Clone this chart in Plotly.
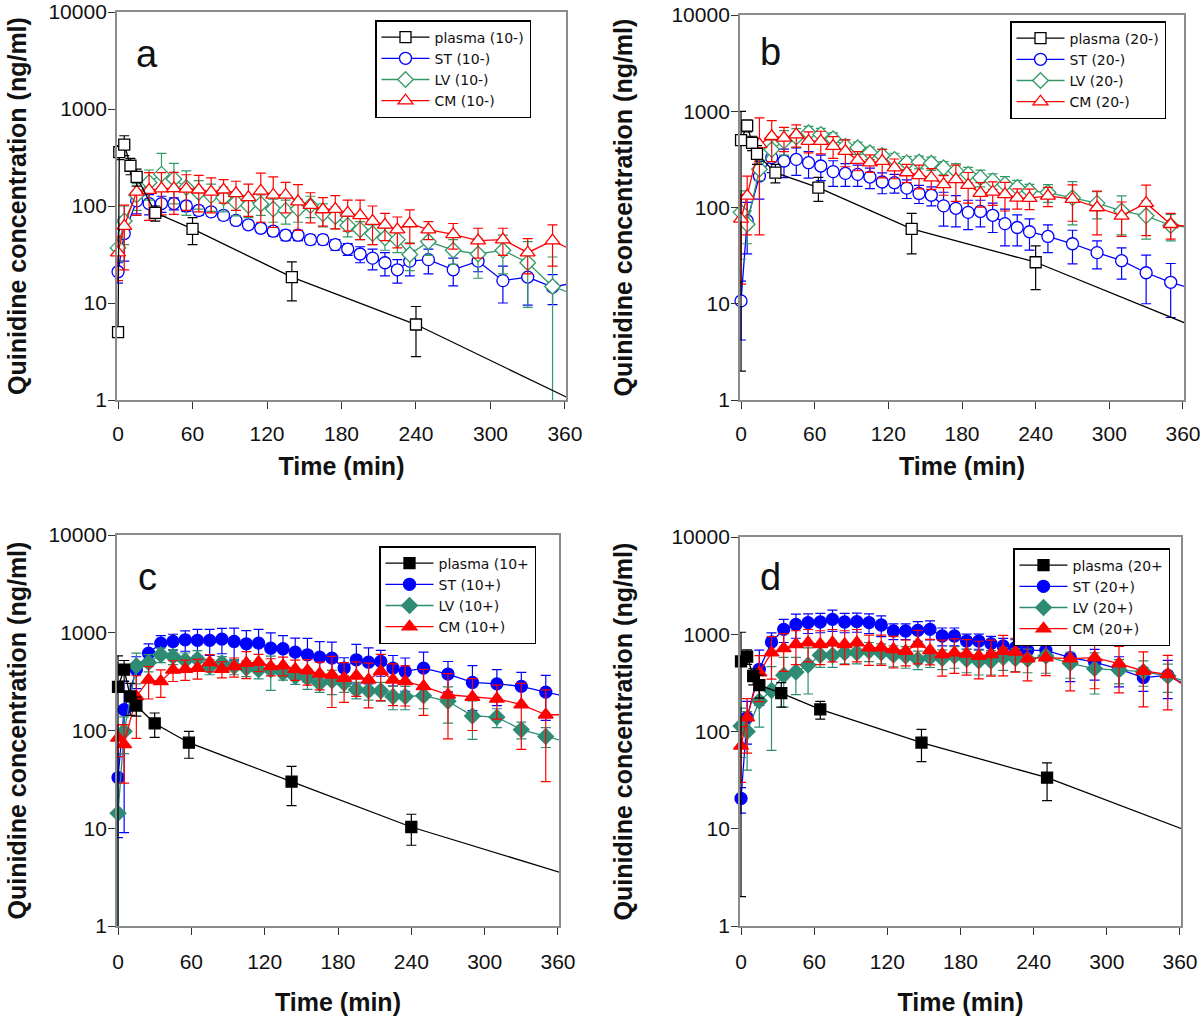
import plotly.graph_objects as go

# ---------------- data ----------------
TISSUE_TIME = [0, 5, 15, 25, 35, 45, 55, 65, 75, 85, 95, 105, 115, 125, 135, 145, 155,
               165, 175, 185, 195, 205, 215, 225, 235, 250, 270, 290, 310, 330, 350]
FIT_END_TIME = 366
X_TICKS = [0, 60, 120, 180, 240, 300, 360]
Y_TICK_VALS = [1, 10, 100, 1000, 10000]
Y_TICK_TEXT = ["1", "10", "100", "1000", "10000"]

# panel a (10-)
A_PL_T = [0, 1, 5, 10, 15, 30, 60, 140, 240]
A_PL = [5, 360, 430, 260, 200, 85, 58, 18.5, 6]
A_PL_SD = [0, 60, 100, 50, 40, 15, 18, 8, 3.2]
A_ST = [21, 52, 113, 106, 106, 106, 100, 90, 87, 80, 71, 64, 59, 55, 50, 50, 45, 45, 40, 36,
        32, 29, 26, 22, 27, 28, 22, 27, 17, 18.5, 14.6]
A_ST_SD = [5, 25, 30, 25, 20, 15, 12, 10, 8, 8, 7, 6, 6, 6, 6, 6, 5, 5, 5, 5,
           6, 7, 7, 6, 8, 8, 7, 6, 7, 9, 5]
A_LV = [37, 70, 130, 175, 213, 190, 155, 138, 128, 122, 109, 101, 105, 93, 90, 93, 101, 83, 78, 63,
        57, 52, 47, 45, 31.6, 43, 35, 32, 35, 26, 14.8]
A_LV_SD = [10, 30, 40, 60, 135, 85, 75, 45, 40, 35, 30, 25, 25, 25, 25, 25, 25, 22, 20, 15,
           12, 12, 12, 12, 10, 12, 10, 14, 15, 17, 15]
A_CM = [33, 62, 140, 146, 151, 152, 150, 147, 140, 147, 135, 123, 143, 130, 130, 111, 102, 92, 93, 85,
        80, 70, 64, 57, 66, 57, 51, 44, 45, 33, 44]
A_CM_SD = [16, 40, 60, 75, 70, 70, 60, 60, 55, 40, 45, 45, 75, 70, 45, 55, 35, 30, 35, 30,
           35, 30, 20, 20, 25, 12, 15, 15, 14, 13, 20]
A_END = {"plasma": 1.0, "ST": 16, "LV": 12.4, "CM": 35}

# panel b (20-)
B_PL_T = [0, 5, 9, 13, 28, 63, 139, 240]
B_PL = [500, 710, 470, 360, 230, 161, 60, 27]
B_PL_SD = [498, 100, 80, 80, 50, 45, 27, 13]
B_ST = [10.7, 73, 212, 330, 304, 316, 292, 270, 236, 226, 221, 207, 184, 181, 159, 140, 134, 104, 98, 89,
        91, 83, 68, 62, 56, 50, 42, 34, 28, 21, 16.7]
B_ST_SD = [6.5, 40, 90, 100, 100, 100, 90, 80, 70, 60, 55, 50, 45, 40, 35, 30, 30, 40, 35, 30,
           28, 28, 28, 22, 20, 16, 16, 11, 10, 11, 9.5]
B_LV = [89, 67, 250, 400, 490, 540, 597, 575, 517, 434, 417, 370, 347, 316, 292, 297, 288, 259, 240, 221,
        204, 189, 174, 161, 149, 143, 126, 111, 92, 82, 65]
B_LV_SD = [60, 25, 60, 100, 140, 120, 100, 90, 80, 70, 60, 55, 55, 50, 45, 45, 45, 40, 45, 40,
           40, 35, 35, 30, 25, 30, 60, 35, 40, 35, 20]
B_CM = [76, 132, 452, 550, 530, 573, 490, 490, 434, 385, 311, 292, 303, 259, 231, 216, 204, 174, 196, 171,
        141, 145, 137, 126, 125, 132, 122, 100, 82, 111, 67]
B_CM_SD = [60, 80, 400, 250, 150, 150, 120, 130, 110, 120, 70, 60, 100, 60, 50, 60, 50, 40, 80, 60,
           40, 40, 45, 30, 30, 30, 50, 48, 32, 60, 20]
B_END = {"plasma": 6.0, "ST": 14.5, "LV": 62, "CM": 63}

# panel c (10+)
C_PL_T = [0, 5, 10, 15, 30, 58, 142, 240]
C_PL = [280, 420, 223, 180, 118, 75, 30, 10.3]
C_PL_SD = [300, 100, 80, 40, 33, 23, 13, 3.6]
C_ST = [33, 163, 418, 618, 783, 815, 847, 835, 835, 860, 815, 771, 783, 695, 686, 633, 595, 563, 550, 435,
        529, 500, 509, 435, 402, 435, 378, 310, 300, 283, 247]
C_ST_SD = [25, 154, 150, 150, 150, 150, 200, 250, 250, 250, 300, 280, 300, 300, 250, 250, 280, 250, 250, 120,
           230, 200, 150, 150, 150, 200, 130, 150, 120, 110, 120]
C_LV = [14.2, 98, 460, 497, 595, 572, 521, 537, 452, 490, 452, 435, 417, 417, 387, 357, 344, 305, 323, 305,
        261, 255, 255, 223, 223, 227, 199, 141, 137, 102, 87]
C_LV_SD = [15, 40, 160, 100, 100, 100, 100, 120, 80, 80, 80, 80, 80, 160, 60, 60, 80, 60, 90, 60,
           50, 50, 55, 60, 60, 60, 80, 60, 30, 20, 20]
C_CM = [84, 72, 223, 330, 318, 417, 425, 435, 497, 425, 452, 490, 500, 452, 462, 425, 411, 380, 372, 344,
        363, 330, 402, 330, 318, 283, 232, 220, 211, 184, 145]
C_CM_SD = [30, 43, 140, 120, 100, 100, 100, 100, 100, 80, 100, 150, 100, 90, 100, 100, 120, 120, 200, 150,
           140, 160, 200, 150, 140, 140, 150, 120, 80, 120, 115]
C_END = {"plasma": 3.4, "ST": 224, "LV": 77, "CM": 145}

# panel d (20+)
D_PL_T = [0, 5, 10, 15, 33, 65, 148, 251]
D_PL = [525, 590, 372, 300, 248, 169, 77, 33.5]
D_PL_SD = [523, 100, 70, 80, 70, 35, 28, 14]
D_ST = [20.5, 139, 436, 832, 1123, 1260, 1318, 1336, 1422, 1336, 1348, 1318, 1245, 1080, 1080, 1097, 1123,
        959, 959, 851, 851, 800, 758, 728, 684, 684, 575, 518, 437, 358, 378]
D_ST_SD = [6, 65, 250, 200, 300, 350, 300, 300, 350, 300, 300, 300, 300, 200, 200, 250, 250, 200, 200, 150,
           150, 150, 150, 150, 150, 150, 250, 180, 150, 100, 160]
D_LV = [114, 100, 206, 264, 378, 409, 483, 607, 607, 646, 646, 673, 646, 612, 597, 552, 575, 562, 597, 552,
        531, 531, 575, 562, 552, 597, 503, 443, 429, 412, 372]
D_LV_SD = [60, 60, 95, 200, 200, 170, 240, 150, 150, 150, 150, 150, 150, 150, 150, 120, 120, 130, 150, 150,
           150, 150, 150, 150, 150, 200, 150, 200, 120, 120, 120]
D_CM = [71, 139, 403, 646, 716, 787, 819, 787, 819, 787, 819, 728, 728, 700, 673, 797, 684, 621, 646, 630,
        597, 621, 673, 658, 562, 575, 562, 575, 500, 419, 387]
D_CM_SD = [41, 79, 200, 300, 300, 300, 300, 300, 300, 300, 300, 250, 250, 250, 200, 300, 200, 250, 250, 250,
           250, 250, 300, 250, 230, 200, 300, 300, 250, 240, 220]
D_END = {"plasma": 9.5, "ST": 294, "LV": 324, "CM": 282}

PANEL_LETTERS = ["a", "b", "c", "d"]
LEGEND_NAMES = [
    ["plasma (10-)", "ST (10-)", "LV (10-)", "CM (10-)"],
    ["plasma (20-)", "ST (20-)", "LV (20-)", "CM (20-)"],
    ["plasma (10+", "ST (10+)", "LV (10+)", "CM (10+)"],
    ["plasma (20+", "ST (20+)", "LV (20+)", "CM (20+)"],
]

# ---------------- styling ----------------
FONT = "Liberation Sans, Arial, Helvetica, sans-serif"
LEG_FONT = "DejaVu Sans, Liberation Sans, Arial, sans-serif"
BLACK = "#000000"
BLUE = "#0000ff"
GREEN_OPEN = "#339966"
GREEN_FILL = "#2e8b74"
RED = "#ff0000"

panels = [
    dict(pl=(A_PL_T, A_PL, A_PL_SD), st=(A_ST, A_ST_SD), lv=(A_LV, A_LV_SD), cm=(A_CM, A_CM_SD),
         end=A_END, filled=False, bottom=False, right=False,
         xdom=[116.8, 566.2], ydom=[12, 400], leg=(375, 20), letter=(147, 54)),
    dict(pl=(B_PL_T, B_PL, B_PL_SD), st=(B_ST, B_ST_SD), lv=(B_LV, B_LV_SD), cm=(B_CM, B_CM_SD),
         end=B_END, filled=False, bottom=False, right=True,
         xdom=[739.8, 1184.2], ydom=[15, 400], leg=(1010, 21), letter=(770, 52)),
    dict(pl=(C_PL_T, C_PL, C_PL_SD), st=(C_ST, C_ST_SD), lv=(C_LV, C_LV_SD), cm=(C_CM, C_CM_SD),
         end=C_END, filled=True, bottom=True, right=False,
         xdom=[116.8, 559.2], ydom=[535, 926], leg=(379, 546), letter=(147, 577)),
    dict(pl=(D_PL_T, D_PL, D_PL_SD), st=(D_ST, D_ST_SD), lv=(D_LV, D_LV_SD), cm=(D_CM, D_CM_SD),
         end=D_END, filled=True, bottom=True, right=True,
         xdom=[739.8, 1181.2], ydom=[537, 926], leg=(1013, 548), letter=(770, 577)),
]

W, H = 1200, 1016
fig = go.Figure()

layout_updates = {}
annotations = []
for i, p in enumerate(panels):
    sfx = "" if i == 0 else str(i + 1)
    xref, yref = "x" + sfx, "y" + sfx
    legname = "legend" + sfx
    filled = p["filled"]
    lv_color = GREEN_FILL if filled else GREEN_OPEN

    series = [
        # key, name idx, times, vals, sd, color, symbol, size, rank
        ("ST", 1, TISSUE_TIME, p["st"][0], p["st"][1], BLUE, "circle", 12, 2),
        ("LV", 2, TISSUE_TIME, p["lv"][0], p["lv"][1], lv_color, "diamond", 12, 3),
        ("CM", 3, TISSUE_TIME, p["cm"][0], p["cm"][1], RED, "triangle-up", 13, 4),
        ("plasma", 0, p["pl"][0], p["pl"][1], p["pl"][2], BLACK, "square", 11, 1),
    ]
    for key, ni, tt, vv, sd, col, sym, size, rank in series:
        # extension of the fitted line past the last sample (clipped by the axes)
        fig.add_trace(go.Scatter(
            x=[tt[-1], FIT_END_TIME], y=[vv[-1], p["end"][key]], mode="lines",
            line=dict(color=col, width=1.3), showlegend=False, hoverinfo="skip",
            xaxis=xref, yaxis=yref))
        # error bars (clipped)
        fig.add_trace(go.Scatter(
            x=tt, y=vv, mode="markers", marker=dict(size=1, opacity=0),
            error_y=dict(type="data", array=sd, visible=True, color=col, thickness=1.2, width=5),
            showlegend=False, hoverinfo="skip", xaxis=xref, yaxis=yref))
        # data with markers
        mk = dict(symbol=sym, size=size, color=col if filled else "white",
                  line=dict(color=col, width=1.3))
        fig.add_trace(go.Scatter(
            x=tt, y=vv, mode="lines+markers", name=LEGEND_NAMES[i][ni],
            line=dict(color=col, width=1.3), marker=mk, cliponaxis=False,
            legend=legname, legendrank=rank, xaxis=xref, yaxis=yref))

    x0, x1 = p["xdom"]
    yt, yb = p["ydom"]
    axis_common = dict(
        showline=True, linecolor="#8c8c8c", linewidth=1.5, mirror=True,
        ticks="outside", ticklen=7, tickwidth=1.3, tickcolor="#333333",
        showgrid=False, zeroline=False, automargin=False, ticklabeloverflow="allow",
        tickfont=dict(family=FONT, size=21, color="#111111"),
    )
    layout_updates["xaxis" + sfx] = dict(
        axis_common, domain=[x0 / W, x1 / W], anchor=yref, range=[-1, 361],
        tickmode="array", tickvals=X_TICKS, ticktext=[str(v) for v in X_TICKS],
        ticklabelstandoff=9 if p["bottom"] else 7,
        title=dict(text="Time (min)", standoff=22 if p["bottom"] else 14,
                   font=dict(family=FONT, size=25, color="#111111", weight="bold")),
    )
    layout_updates["yaxis" + sfx] = dict(
        axis_common, domain=[1 - yb / H, 1 - yt / H], anchor=xref, type="log", range=[0, 4],
        tickmode="array", tickvals=Y_TICK_VALS, ticktext=Y_TICK_TEXT,
        ticklabelstandoff=-3,
        title=dict(text="Quinidine concentration (ng/ml)", standoff=32 if p["right"] else 15,
                   font=dict(family=FONT, size=25, color="#111111", weight="bold")),
    )
    lx, ly = p["leg"]
    layout_updates[legname] = dict(
        x=lx / W, y=1 - ly / H, xanchor="left", yanchor="top",
        bgcolor="white", bordercolor="black", borderwidth=1.5,
        font=dict(family=LEG_FONT, size=14, color="#111111"),
        tracegroupgap=0, itemwidth=48,
    )
    ax, ay = p["letter"]
    annotations.append(dict(
        text=PANEL_LETTERS[i], x=ax / W, y=1 - ay / H, xref="paper", yref="paper",
        xanchor="center", yanchor="middle", showarrow=False,
        font=dict(family=FONT, size=38, color="#111111")))

fig.update_layout(
    width=W, height=H, margin=dict(l=0, r=0, t=0, b=0),
    paper_bgcolor="white", plot_bgcolor="white",
    showlegend=True, annotations=annotations, **layout_updates,
)

fig.write_html(
    "out.html",
    config={"displayModeBar": False},
    post_script="document.body.style.margin='0px';document.body.style.overflow='hidden';",
)
